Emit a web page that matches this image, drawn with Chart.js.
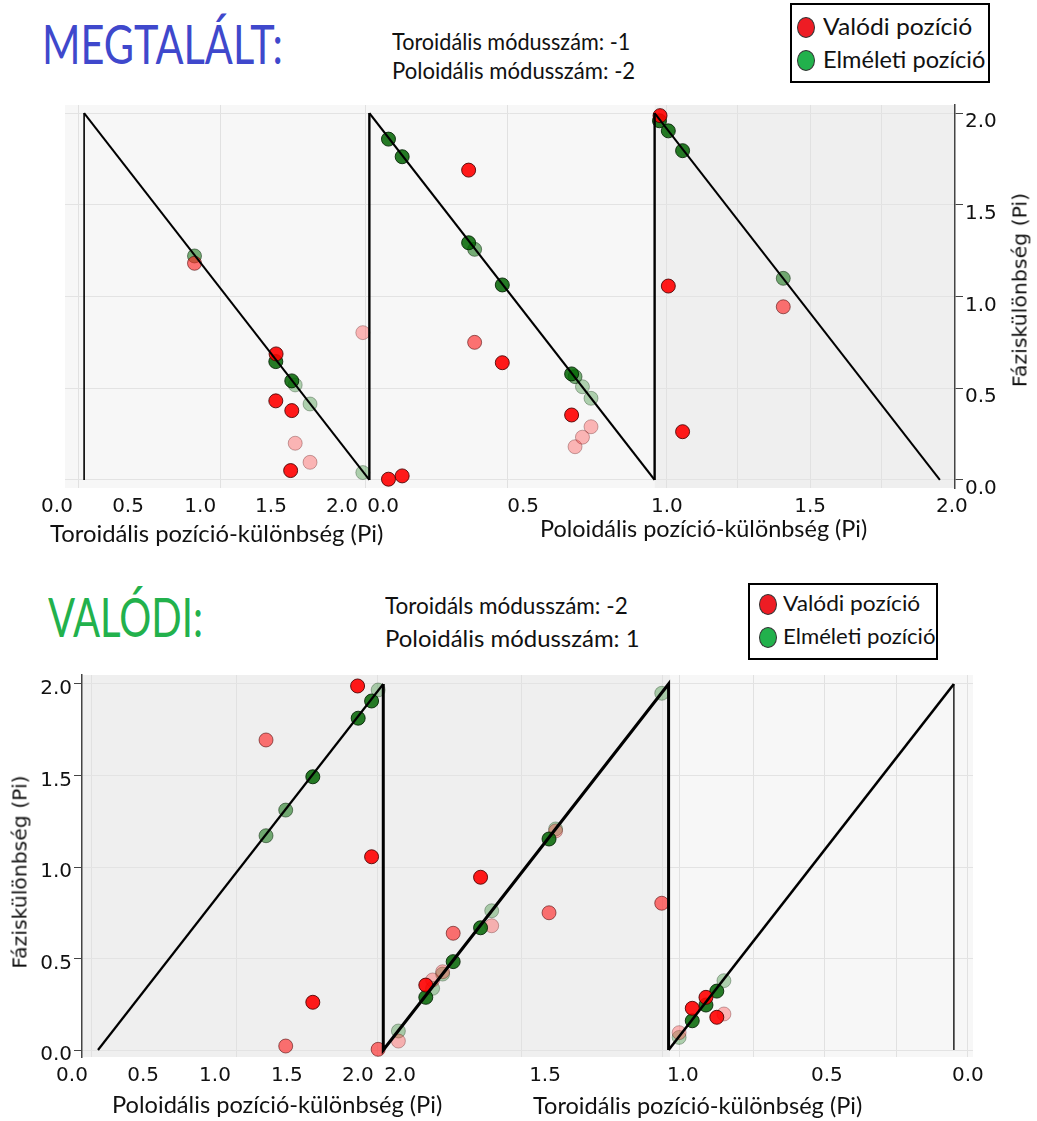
<!DOCTYPE html>
<html>
<head>
<meta charset="utf-8">
<script src="https://cdn.jsdelivr.net/npm/chart.js"></script>
<style>
  html, body { margin: 0; padding: 0; background: #fff; }
  body { width: 1037px; height: 1121px; position: relative; overflow: hidden; font-family: Lato, 'Open Sans', sans-serif; }
  .t { position: absolute; white-space: nowrap; line-height: 1; transform-origin: 0 0; color: #111; }
  .rot { position: absolute; white-space: nowrap; line-height: 1; font-family: 'DejaVu Sans', sans-serif; color: #111; }
  .legend { position: absolute; border: 2px solid #000; box-sizing: border-box; background: #fff; }
  .dot { position: absolute; border-radius: 50%; border: 1px solid #333; box-sizing: border-box; }
  canvas { position: absolute; left: 0; }
</style>
</head>
<body>
<canvas id="topChart" width="1037" height="470" style="top:95px"></canvas>
<canvas id="botChart" width="1037" height="456" style="top:665px"></canvas>

<script>
// =============================
// ADATOK
// x: hely a fűrészfog-periódusokban, y: fáziskülönbség (Pi)
// =============================

// --- MEGTALÁLT (felső ábra) ---
const topSawX = [0, 0, 1, 1, 2, 2, 3];
const topSawY = [0, 2, 0, 2, 0, 2, 0];

const topRealStrong = [[0.673, 0.687], [0.672, 0.431], [0.728, 0.378], [0.724, 0.051], [1.067, 0.004], [1.115, 0.022],
                       [1.348, 1.689], [1.466, 0.639], [1.709, 0.354], [2.019, 1.986], [2.048, 1.057], [2.098, 0.263]];
const topRealMid = [[0.387, 1.181], [1.369, 0.750], [2.451, 0.944]];
const topRealFaint = [[0.740, 0.200], [0.792, 0.096], [0.977, 0.803], [1.721, 0.181], [1.747, 0.233], [1.777, 0.290]];

const topTheoStrong = [[0.672, 0.645], [0.728, 0.540], [1.067, 1.858], [1.115, 1.762], [1.348, 1.293], [1.466, 1.063],
                       [1.709, 0.578], [2.017, 1.958], [2.048, 1.903], [2.098, 1.795]];
const topTheoMid = [[0.387, 1.221], [1.369, 1.257], [1.721, 0.563], [2.451, 1.099]];
const topTheoFaint = [[0.740, 0.518], [0.792, 0.414], [0.977, 0.040], [1.747, 0.508], [1.777, 0.445]];

const topTickPos = [-0.095, 0.154, 0.407, 0.655, 0.904, 1.048, 1.539, 2.043, 2.545, 3.042];
const topTickLabels = ['0.0', '0.5', '1.0', '1.5', '2.0', '0.0', '0.5', '1.0', '1.5', '2.0'];

// --- VALÓDI (alsó ábra) ---
const botSawX = [0, 1, 1, 2, 2, 3, 3];
const botSawY = [0, 2, 0, 2, 0, 2, 0];

const botRealStrong = [[0.910, 1.989], [0.959, 1.056], [0.753, 0.261], [1.341, 0.944], [1.149, 0.355],
                       [2.083, 0.228], [2.131, 0.288], [2.169, 0.179]];
const botRealMid = [[0.589, 1.694], [0.658, 0.022], [0.982, 0.004], [1.245, 0.638], [1.581, 0.750], [1.976, 0.802]];
const botRealFaint = [[1.053, 0.049], [1.173, 0.383], [1.208, 0.428], [1.380, 0.679], [1.604, 1.197],
                      [2.037, 0.095], [2.194, 0.197]];

const botTheoStrong = [[0.959, 1.907], [0.912, 1.813], [0.753, 1.493], [1.149, 0.288], [1.245, 0.483], [1.341, 0.668],
                       [1.581, 1.153], [2.083, 0.160], [2.131, 0.246], [2.169, 0.322]];
const botTheoMid = [[0.658, 1.311], [0.589, 1.171]];
const botTheoFaint = [[0.982, 1.967], [1.053, 0.104], [1.173, 0.337], [1.208, 0.415], [1.380, 0.761], [1.604, 1.208],
                      [1.976, 1.949], [2.037, 0.069], [2.194, 0.379]];

const botTickPos = [-0.091, 0.158, 0.410, 0.662, 0.911, 1.059, 1.567, 2.050, 2.555, 3.049];
const botTickLabels = ['0.0', '0.5', '1.0', '1.5', '2.0', '2.0', '1.5', '1.0', '0.5', '0.0'];

const yTickValues = [0, 0.5, 1, 1.5, 2];

// =============================
// SZÍNEK
// =============================
const RED = ['rgba(255,0,0,0.9)', 'rgba(255,30,30,0.62)', 'rgba(255,60,60,0.36)'];
const RED_EDGE = ['rgba(70,0,0,0.85)', 'rgba(70,0,0,0.55)', 'rgba(70,0,0,0.3)'];
const GREEN = ['rgba(0,100,0,0.85)', 'rgba(20,115,20,0.58)', 'rgba(30,130,30,0.34)'];
const GREEN_EDGE = ['rgba(0,30,0,0.85)', 'rgba(0,30,0,0.5)', 'rgba(0,30,0,0.3)'];

function pts(data, fill, edge, order) {
    return {
        data: data.map(([x, y]) => ({ x, y })),
        backgroundColor: fill,
        borderColor: edge,
        borderWidth: 1,
        pointRadius: 7,
        pointHoverRadius: 7,
        order: order
    };
}

// =============================
// DIAGRAM
// =============================
function makeChart(id, o) {
    const bands = {
        id: 'bands',
        beforeDraw(chart) {
            const { ctx, chartArea: a, scales } = chart;
            o.bands.forEach(b => {
                const x0 = Math.max(a.left, scales.x.getPixelForValue(b[0]));
                const x1 = Math.min(a.right, scales.x.getPixelForValue(b[1]));
                ctx.fillStyle = b[2];
                ctx.fillRect(x0, a.top, x1 - x0, a.bottom - a.top);
            });
        }
    };
    const tickFont = { family: 'DejaVu Sans', size: 20 };

    return new Chart(document.getElementById(id), {
        type: 'scatter',
        data: {
            datasets: [
                {
                    type: 'line',
                    data: o.sawX.map((x, i) => ({ x, y: o.sawY[i] })),
                    borderColor: '#000',
                    borderWidth: 2,
                    segment: { borderWidth: c => o.lineWidths[c.p0DataIndex] },
                    pointRadius: 0,
                    tension: 0,
                    fill: false,
                    order: 0
                },
                pts(o.realStrong, RED[0], RED_EDGE[0], 1),
                pts(o.theoStrong, GREEN[0], GREEN_EDGE[0], 2),
                pts(o.realMid, RED[1], RED_EDGE[1], 3),
                pts(o.theoMid, GREEN[1], GREEN_EDGE[1], 4),
                pts(o.realFaint, RED[2], RED_EDGE[2], 5),
                pts(o.theoFaint, GREEN[2], GREEN_EDGE[2], 6)
            ]
        },
        options: {
            responsive: false,
            animation: false,
            events: [],
            layout: { padding: o.padding, autoPadding: false },
            plugins: { legend: { display: false }, tooltip: { enabled: false } },
            scales: {
                x: {
                    type: 'linear', min: o.xMin, max: o.xMax,
                    grid: { display: false, drawTicks: false },
                    border: { display: false },
                    afterBuildTicks: s => { s.ticks = o.tickPos.map(v => ({ value: v })); },
                    afterFit: s => { s.height = o.xAxisH; s.paddingLeft = 0; s.paddingRight = 0; },
                    ticks: {
                        autoSkip: false, maxRotation: 0, minRotation: 0, padding: 7,
                        color: '#111', font: tickFont,
                        callback: (v, i) => o.tickLabels[i]
                    }
                },
                xg: {
                    type: 'linear', position: 'bottom', min: o.xMin, max: o.xMax,
                    ticks: { display: false },
                    grid: { color: '#e1e1e1', drawTicks: false },
                    border: { display: false },
                    afterBuildTicks: s => { s.ticks = o.gridX.map(v => ({ value: v })); },
                    afterFit: s => { s.height = 0; s.paddingLeft = 0; s.paddingRight = 0; }
                },
                y: {
                    type: 'linear', position: o.yPos, min: o.yMin, max: o.yMax,
                    grid: { color: '#e3e3e3', tickColor: '#444', tickLength: 8 },
                    border: { display: true, color: '#444', width: 1.5 },
                    afterBuildTicks: s => { s.ticks = yTickValues.map(v => ({ value: v })); },
                    afterFit: s => { s.width = 82; s.paddingTop = 0; s.paddingBottom = 0; },
                    ticks: {
                        padding: 2, labelOffset: o.labelOffset,
                        color: '#111', font: tickFont,
                        callback: v => v.toFixed(1)
                    }
                }
            }
        },
        plugins: [bands]
    });
}

makeChart('topChart', {
    sawX: topSawX, sawY: topSawY, lineWidths: [1.6, 2, 2.4, 2.2, 2.4, 2],
    realStrong: topRealStrong, realMid: topRealMid, realFaint: topRealFaint,
    theoStrong: topTheoStrong, theoMid: topTheoMid, theoFaint: topTheoFaint,
    tickPos: topTickPos, tickLabels: topTickLabels,
    gridX: [-0.021, 0.477, 0.985, 1.483, 2.043, 2.292, 2.545, 2.797],
    bands: [[-1, 2.0, '#f7f7f7'], [2.0, 4, '#efefef']],
    xMin: -0.067, xMax: 3.053, yMin: -0.044, yMax: 2.044,
    yPos: 'right', labelOffset: 9,
    padding: { left: 65, top: 10, right: 0, bottom: 0 }, xAxisH: 77
});

makeChart('botChart', {
    sawX: botSawX, sawY: botSawY, lineWidths: [2.2, 3, 3, 3, 2.6, 1.3],
    realStrong: botRealStrong, realMid: botRealMid, realFaint: botRealFaint,
    theoStrong: botTheoStrong, theoMid: botTheoMid, theoFaint: botTheoFaint,
    tickPos: botTickPos, tickLabels: botTickLabels,
    gridX: [-0.021, 0.484, 0.981, 1.483, 1.977, 2.040, 2.296, 2.548, 2.800, 3.049],
    bands: [[-1, 2.005, '#efefef'], [2.005, 4, '#f7f7f7']],
    xMin: -0.056, xMax: 3.067, yMin: -0.038, yMax: 2.049,
    yPos: 'left', labelOffset: 5,
    padding: { left: 0, top: 10, right: 64, bottom: 0 }, xAxisH: 64
});

// =============================
// FELIRATOK, JELMAGYARÁZAT
// =============================
function label(text, left, cy, size, width, color) {
    const el = document.createElement('div');
    el.className = 't';
    el.textContent = text;
    el.style.left = left + 'px';
    el.style.top = (cy - 0.53 * size) + 'px';
    el.style.fontSize = size + 'px';
    if (color) el.style.color = color;
    document.body.appendChild(el);
    el.style.transform = `scaleX(${width / el.offsetWidth})`;
}

function vlabel(text, cx, cy, size, len) {
    const el = document.createElement('div');
    el.className = 'rot';
    el.textContent = text;
    el.style.left = cx + 'px';
    el.style.top = cy + 'px';
    el.style.fontSize = size + 'px';
    document.body.appendChild(el);
    el.style.transform = `translate(-50%,-50%) rotate(-90deg) scaleX(${len / el.offsetWidth})`;
}

function legend(x, y, w, h, dotX, rows, textX, widths, size) {
    const box = document.createElement('div');
    box.className = 'legend';
    Object.assign(box.style, { left: x + 'px', top: y + 'px', width: w + 'px', height: h + 'px' });
    document.body.appendChild(box);
    const colors = ['#ee1c24', '#22b14c'];
    const names = ['Valódi pozíció', 'Elméleti pozíció'];
    rows.forEach((cy, i) => {
        const d = document.createElement('div');
        d.className = 'dot';
        Object.assign(d.style, { left: (dotX - 9) + 'px', top: (cy - 10) + 'px', width: '18px', height: '21px', background: colors[i] });
        document.body.appendChild(d);
        label(names[i], textX, cy, size, widths[i]);
    });
}

function drawTexts() {
    label('MEGTALÁLT:', 42, 46, 54, 241, '#3f48cc');
    label('Toroidális módusszám: -1', 392, 42, 23, 238);
    label('Poloidális módusszám: -2', 392, 71, 23, 243);
    legend(790, 3, 200, 80, 806, [27, 60], 823, [149, 162], 23);

    label('Toroidális pozíció-különbség (Pi)', 50, 534, 24, 333);
    label('Poloidális pozíció-különbség (Pi)', 540, 529, 24, 327);
    vlabel('Fáziskülönbség (Pi)', 1020, 290, 19, 194);

    label('VALÓDI:', 48, 618, 55, 155, '#22b14c');
    label('Toroidáls módusszám: -2', 385, 606, 23, 243);
    label('Poloidális módusszám: 1', 385, 639, 23, 255);
    legend(748, 583, 190, 77, 768, [604, 637], 783, [137, 153], 22);

    label('Poloidális pozíció-különbség (Pi)', 112, 1105, 24, 330);
    label('Toroidális pozíció-különbség (Pi)', 533, 1106, 24, 329);
    vlabel('Fáziskülönbség (Pi)', 20, 872, 19, 193);
}

drawTexts();
</script>
</body>
</html>
